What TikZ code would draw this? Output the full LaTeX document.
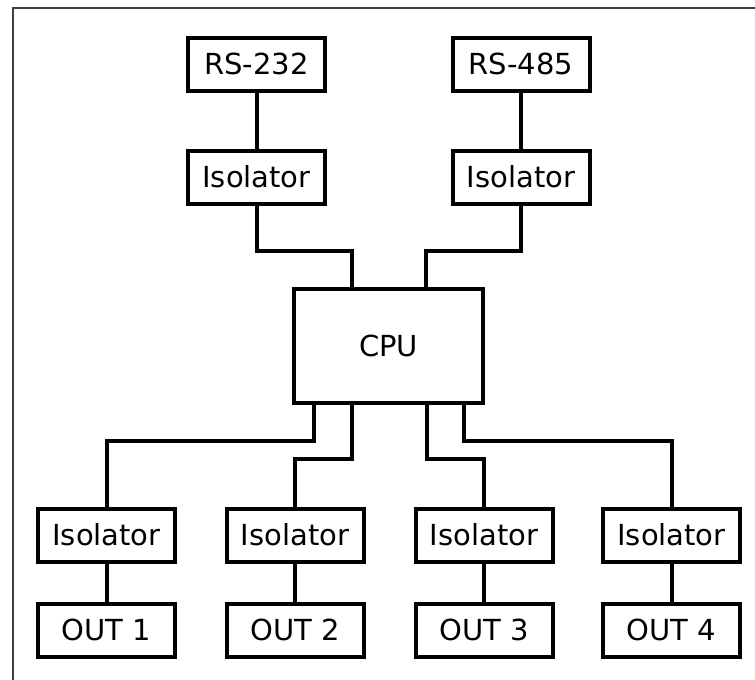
\documentclass[tikz,border=0pt]{standalone}
\usepackage{fontspec}
\setmainfont{DejaVu Sans}
\begin{document}
\begin{tikzpicture}[x=1pt,y=-1pt,
  blk/.style={draw, line width=4pt, minimum width=137pt, minimum height=53pt, inner sep=0pt, font=\fontsize{29}{32}\selectfont},
  cpubox/.style={draw, line width=4pt, minimum width=189pt, minimum height=114pt, inner sep=0pt, font=\fontsize{29}{32}\selectfont},
  wire/.style={line width=4pt, line join=miter}]
\useasboundingbox (0,0) rectangle (755,680);
\fill[white] (0,0) rectangle (755,680);
\draw[black!75, line width=1.5pt] (13,680) -- (13,8) -- (755,8);
\node[blk] (rs232) at (256.5,64) {RS-232};
\node[blk] (rs485) at (521,64) {RS-485};
\node[blk] (isoa) at (256.5,177) {Isolator};
\node[blk] (isob) at (521,177) {Isolator};
\node[cpubox] (cpu) at (388.5,346) {CPU};
\node[blk] (iso1) at (106.5,535) {Isolator};
\node[blk] (iso2) at (295,535) {Isolator};
\node[blk] (iso3) at (484,535) {Isolator};
\node[blk] (iso4) at (671.5,535) {Isolator};
\node[blk] (out1) at (106.5,630) {OUT 1};
\node[blk] (out2) at (295,630) {OUT 2};
\node[blk] (out3) at (484,630) {OUT 3};
\node[blk] (out4) at (671.5,630) {OUT 4};
\draw[wire] (rs232) -- (isoa);
\draw[wire] (rs485) -- (isob);
\draw[wire] (isoa.south) |- (352,251) -- (cpu.north -| 352,0);
\draw[wire] (isob.south) |- (426,251) -- (cpu.north -| 426,0);
\draw[wire] (cpu.south -| 314,0) |- (106.5,441) -- (iso1.north);
\draw[wire] (cpu.south -| 352,0) |- (295,459) -- (iso2.north);
\draw[wire] (cpu.south -| 427,0) |- (484,459) -- (iso3.north);
\draw[wire] (cpu.south -| 464,0) |- (671.5,441) -- (iso4.north);
\draw[wire] (iso1) -- (out1);
\draw[wire] (iso2) -- (out2);
\draw[wire] (iso3) -- (out3);
\draw[wire] (iso4) -- (out4);
\end{tikzpicture}
\end{document}
